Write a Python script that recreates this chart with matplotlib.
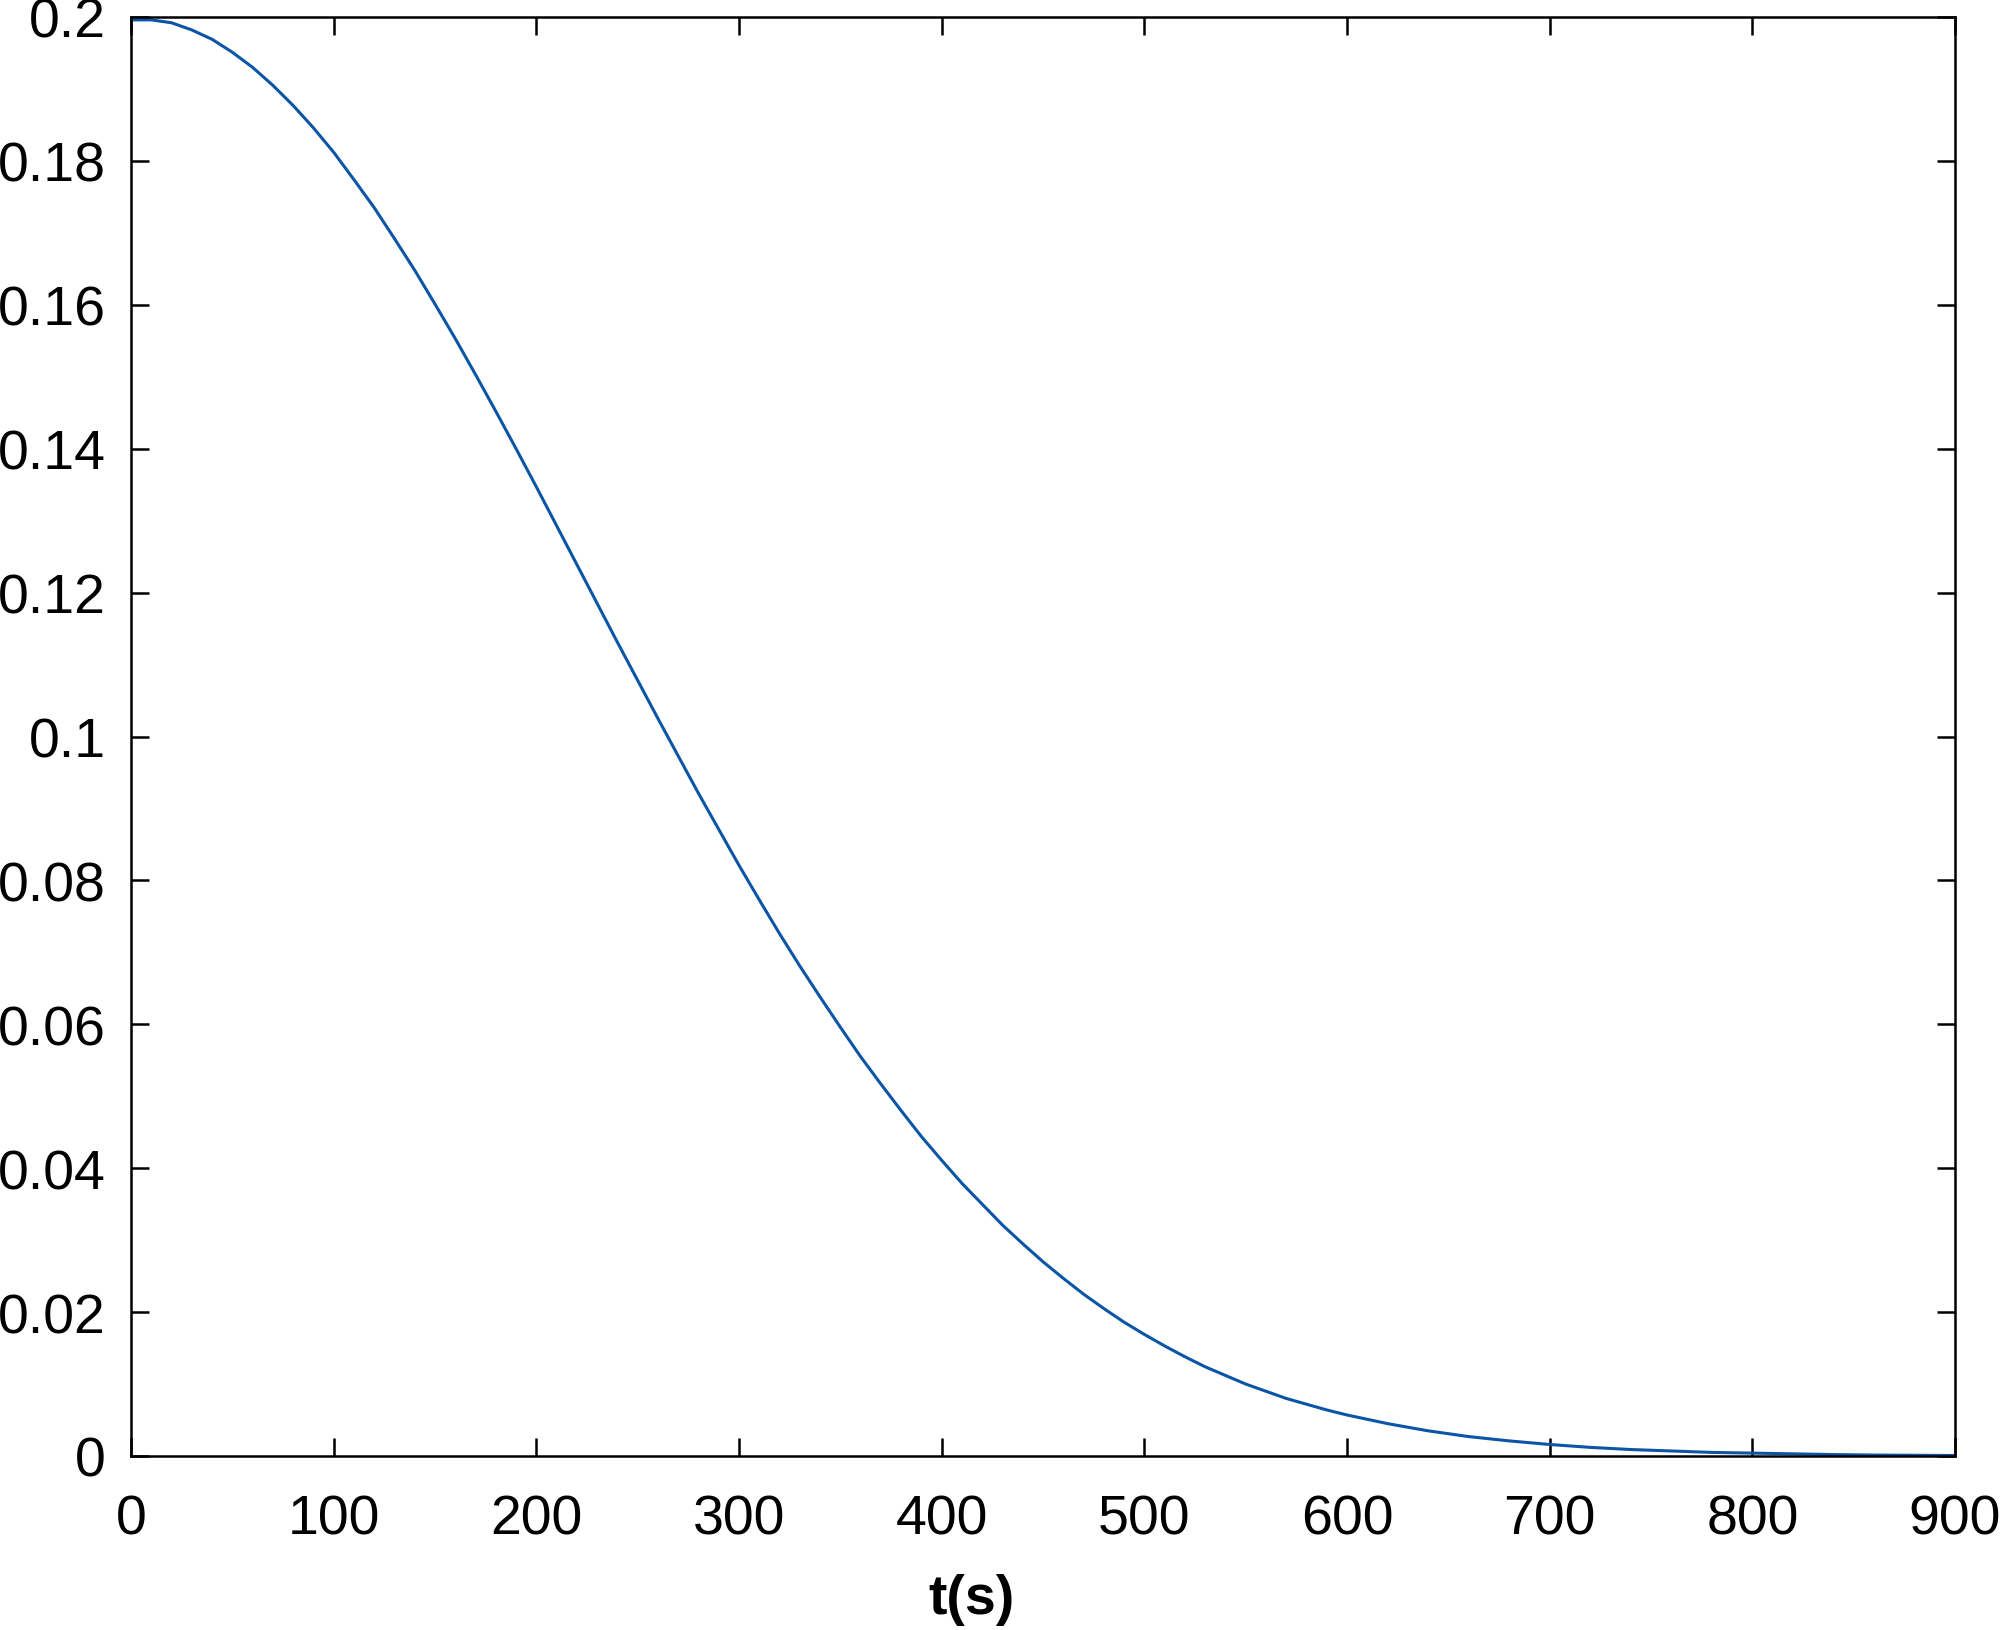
import numpy as np
from matplotlib import pyplot as plt

# values (10 s steps up to 600 s, then 20 s)
t = [0, 10, 20, 30, 40, 50, 60, 70, 80, 90, 100, 110, 120, 130, 140, 150,
     160, 170, 180, 190, 200, 210, 220, 230, 240, 250, 260, 270, 280, 290,
     300, 310, 320, 330, 340, 350, 360, 370, 380, 390, 400, 410, 420, 430,
     440, 450, 460, 470, 480, 490, 500, 510, 520, 530, 540, 550, 560, 570,
     580, 590, 600, 620, 640, 660, 680, 700, 720, 740, 760, 780, 800, 820,
     840, 860, 880, 900]
c = [0.1996, 0.1996, 0.1992, 0.1982, 0.1969, 0.1951, 0.1930, 0.1905, 0.1877,
     0.1846, 0.1812, 0.1774, 0.1735, 0.1692, 0.1648, 0.1601, 0.1553, 0.1503,
     0.1452, 0.1400, 0.1347, 0.1293, 0.1239, 0.1185, 0.1131, 0.1078, 0.1025,
     0.0973, 0.0921, 0.0871, 0.0821, 0.0773, 0.0726, 0.0681, 0.0638, 0.0596,
     0.0555, 0.0517, 0.0480, 0.0444, 0.0411, 0.0379, 0.0350, 0.0321, 0.0295,
     0.0270, 0.0247, 0.0225, 0.0205, 0.0186, 0.0169, 0.0153, 0.0138, 0.0124,
     0.0112, 0.0100, 0.0090, 0.0080, 0.0072, 0.0064, 0.0057, 0.0045, 0.0035,
     0.0027, 0.0021, 0.0016, 0.0012, 0.0009, 0.0007, 0.0005, 0.0004, 0.0003,
     0.0002, 0.00013, 0.0001, 0.00007]

xticks = [0, 100, 200, 300, 400, 500, 600, 700, 800, 900]
yticks = [0, 0.02, 0.04, 0.06, 0.08, 0.1, 0.12, 0.14, 0.16, 0.18, 0.2]
ytick_labels = ['0', '0.02', '0.04', '0.06', '0.08', '0.1', '0.12', '0.14',
                '0.16', '0.18', '0.2']

plt.rcParams['font.family'] = ['Liberation Sans', 'DejaVu Sans']

fig = plt.figure(figsize=(20, 16.31), dpi=100)
ax = fig.add_axes([131 / 2000, 1 - 1457 / 1631, 1824 / 2000, 1439 / 1631])

ax.plot(t, c, color='#0a55a6', linewidth=2.2)

ax.set_xlim(0, 900)
ax.set_ylim(0, 0.2)
ax.set_xticks(xticks)
ax.set_xticklabels([str(v) for v in xticks])
ax.set_yticks(yticks)
ax.set_yticklabels(ytick_labels)

ax.tick_params(direction='in', length=13, width=1.8, labelsize=40,
               top=True, right=True)
ax.tick_params(axis='y', pad=18)
ax.tick_params(axis='x', pad=27)
for s in ax.spines.values():
    s.set_linewidth(1.8)

ax.set_xlabel('t(s)', fontsize=40, fontweight='bold')
ax.xaxis.set_label_coords(0.461, -0.081)

fig.savefig('out.png', dpi=100)
